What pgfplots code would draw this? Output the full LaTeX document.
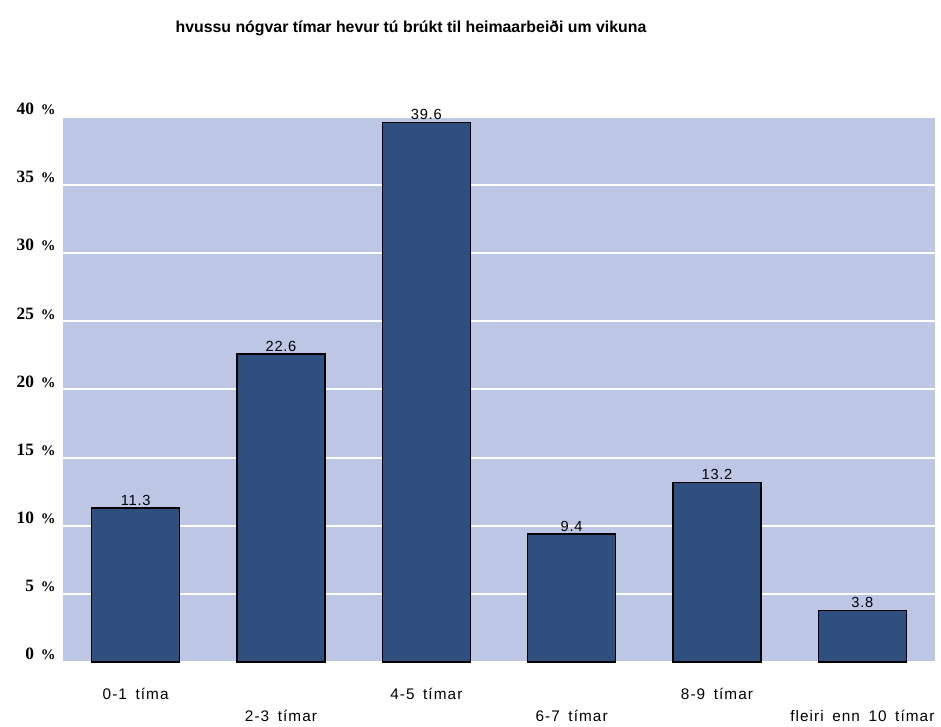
\documentclass[border=0pt]{standalone}
\usepackage{pgfplots}
\pgfplotsset{compat=1.18}
\usepackage{fontspec}
\setmainfont{Liberation Sans}
\newfontfamily\xlab[LetterSpace=7,WordSpace=1.6]{Liberation Sans}
\newfontfamily\vlab[LetterSpace=5]{Liberation Sans}
\newfontfamily\ylab{Liberation Serif}
\definecolor{bgcol}{HTML}{BEC6E6}
\definecolor{barcol}{HTML}{2F4F7F}
\begin{document}
\begin{tikzpicture}
\path (0,0) rectangle (705.75pt,542.25pt);
\node[font=\bfseries\fontsize{11.9}{13}\selectfont] at (308.25pt,521pt) {hvussu nógvar tímar hevur tú brúkt til heimaarbeiði um vikuna};
\begin{axis}[
  at={(47.25pt,45.75pt)}, anchor=south west,
  scale only axis, width=654pt, height=408.75pt,
  xmin=-0.5, xmax=5.5, ymin=0, ymax=40,
  axis background/.style={fill=bgcol},
  axis line style={draw=none},
  tick style={draw=none},
  ymajorgrids, major grid style={white, line width=1.5pt},
  ytick={0,5,...,40},
  /pgf/number format/assume math mode=true,
  yticklabel={\pgfmathprintnumber{\tick}\hspace{0.4em}{\fontsize{11}{13}\selectfont\%}},
  yticklabel style={font=\ylab\bfseries\fontsize{13}{15}\selectfont, yshift=6pt, xshift=-2pt},
  xtick={0,1,2,3,4,5},
  xticklabels={{0-1 tíma},{\strut\\[3pt]2-3 tímar},{4-5 tímar},{\strut\\[3pt]6-7 tímar},{8-9 tímar},{\strut\\[3pt]fleiri enn 10 tímar}},
  xticklabel style={font=\xlab\fontsize{11.5}{13}\selectfont, align=center, anchor=north, yshift=-16pt},
  clip=false,
  nodes near coords,
  every node near coord/.append style={font=\vlab\fontsize{11}{13}\selectfont, text=black, yshift=-2pt},
  point meta=explicit symbolic,
]
\addplot[ybar, bar width=66pt, fill=barcol, draw=black, line width=0.9pt]
  coordinates {(0,11.3)[11.3] (1,22.6)[22.6] (2,39.6)[39.6] (3,9.4)[9.4] (4,13.2)[13.2] (5,3.8)[3.8]};
\end{axis}
\end{tikzpicture}
\end{document}
